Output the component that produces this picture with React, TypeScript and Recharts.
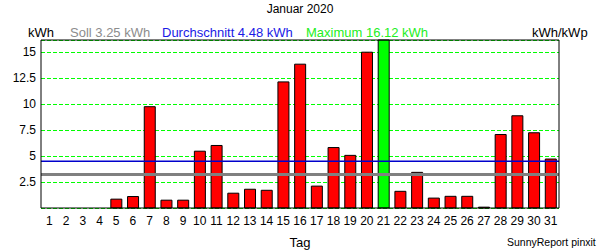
import {
  Bar,
  CartesianGrid,
  Cell,
  ComposedChart,
  ReferenceLine,
  XAxis,
  YAxis,
} from "recharts";

const days = [
  "1", "2", "3", "4", "5", "6", "7", "8", "9", "10", "11", "12", "13", "14", "15", "16",
  "17", "18", "19", "20", "21", "22", "23", "24", "25", "26", "27", "28", "29", "30", "31",
];

// daily yield in kWh
const energy = [
  0, 0, 0, 0, 0.85, 1.1, 9.72, 0.75, 0.75, 5.45, 6.0, 1.42, 1.8, 1.7, 12.1, 13.8,
  2.1, 5.8, 5.05, 14.95, 16.12, 1.6, 3.42, 0.95, 1.12, 1.12, 0.08, 7.05, 8.85, 7.22, 4.7,
];

const soll = 3.25;
const average = 4.48;
const maximum = 16.12;

const leftTicks = [2.5, 5, 7.5, 10, 12.5, 15];
const rightTickLabels = ["0,4", "0,9", "1,3", "1,8", "2,2", "2,7"];

const data = days.map((day, i) => ({ day, value: energy[i] }));

const font = "'Liberation Sans', Arial, sans-serif";

function Label({
  x,
  y,
  color = "#000",
  size = 13,
  center = false,
  children,
}: {
  x: number;
  y: number;
  color?: string;
  size?: number;
  center?: boolean;
  children: string;
}) {
  return (
    <div
      style={{
        position: "absolute",
        left: x,
        top: y,
        color,
        fontSize: size,
        fontFamily: font,
        lineHeight: "14px",
        whiteSpace: "nowrap",
        transform: center ? "translateX(-50%)" : undefined,
      }}
    >
      {children}
    </div>
  );
}

// dashed green grid line, snapped to whole pixels
const gridLine = (p: any) => {
  const y = Math.round(p.y1) + 0.5;
  return (
    <line
      key={p.key ?? p.index}
      x1={p.x1}
      x2={p.x2}
      y1={y}
      y2={y}
      stroke="#00ff00"
      strokeWidth={1}
      strokeDasharray="4 2"
      shapeRendering="crispEdges"
    />
  );
};

export default function App() {
  return (
    <div
      style={{
        position: "absolute",
        left: 0,
        top: 0,
        width: 600,
        height: 250,
        background: "#fff",
        fontFamily: font,
      }}
    >
      <ComposedChart
        width={600}
        height={250}
        data={data}
        margin={{ top: 40, right: 0, bottom: 0, left: 0 }}
      >
        <CartesianGrid yAxisId="left" vertical={false} horizontal={gridLine} />
        <XAxis
          dataKey="day"
          interval={0}
          height={42}
          tickLine={false}
          axisLine={{ stroke: "#000" }}
          tick={{ fill: "#000", fontSize: 12 }}
        />
        <YAxis
          yAxisId="left"
          width={41}
          domain={[0, maximum]}
          ticks={leftTicks}
          tickLine={false}
          tickSize={3}
          tickMargin={2}
          axisLine={{ stroke: "#000" }}
          tick={{ fill: "#000", fontSize: 12 }}
        />
        <YAxis
          yAxisId="right"
          orientation="right"
          width={41}
          domain={[0, maximum]}
          ticks={leftTicks}
          tickFormatter={(v: number) => rightTickLabels[leftTicks.indexOf(v)]}
          tickLine={false}
          tickSize={0}
          tickMargin={2}
          axisLine={{ stroke: "#000" }}
          tick={{ fill: "#000", fontSize: 12, textAnchor: "start" }}
        />
        <Bar
          yAxisId="left"
          dataKey="value"
          barSize={11}
          stroke="#000"
          strokeWidth={1}
          isAnimationActive={false}
        >
          {data.map((d) => (
            <Cell key={d.day} fill={d.value === maximum ? "#00ff00" : "#ff0000"} />
          ))}
        </Bar>
        <ReferenceLine
          yAxisId="left"
          y={soll}
          stroke="#808080"
          strokeWidth={3}
          shapeRendering="crispEdges"
        />
        <ReferenceLine
          yAxisId="left"
          y={average}
          stroke="#0000cc"
          strokeWidth={1.5}
        />
        <ReferenceLine yAxisId="left" y={maximum} stroke="#000" strokeWidth={1} />
      </ComposedChart>

      <Label x={300} y={2} size={12} center>Januar 2020</Label>
      <Label x={28} y={26}>kWh</Label>
      <Label x={70} y={26} color="#8c8c8c">Soll 3.25 kWh</Label>
      <Label x={162} y={26} color="#1a1ae6">Durchschnitt 4.48 kWh</Label>
      <Label x={306} y={26} color="#22ee22">Maximum 16.12 kWh</Label>
      <Label x={532} y={26}>kWh/kWp</Label>
      <Label x={300} y={236} center>Tag</Label>
      <Label x={507} y={235} size={10.5}>SunnyReport pinxit</Label>
    </div>
  );
}
